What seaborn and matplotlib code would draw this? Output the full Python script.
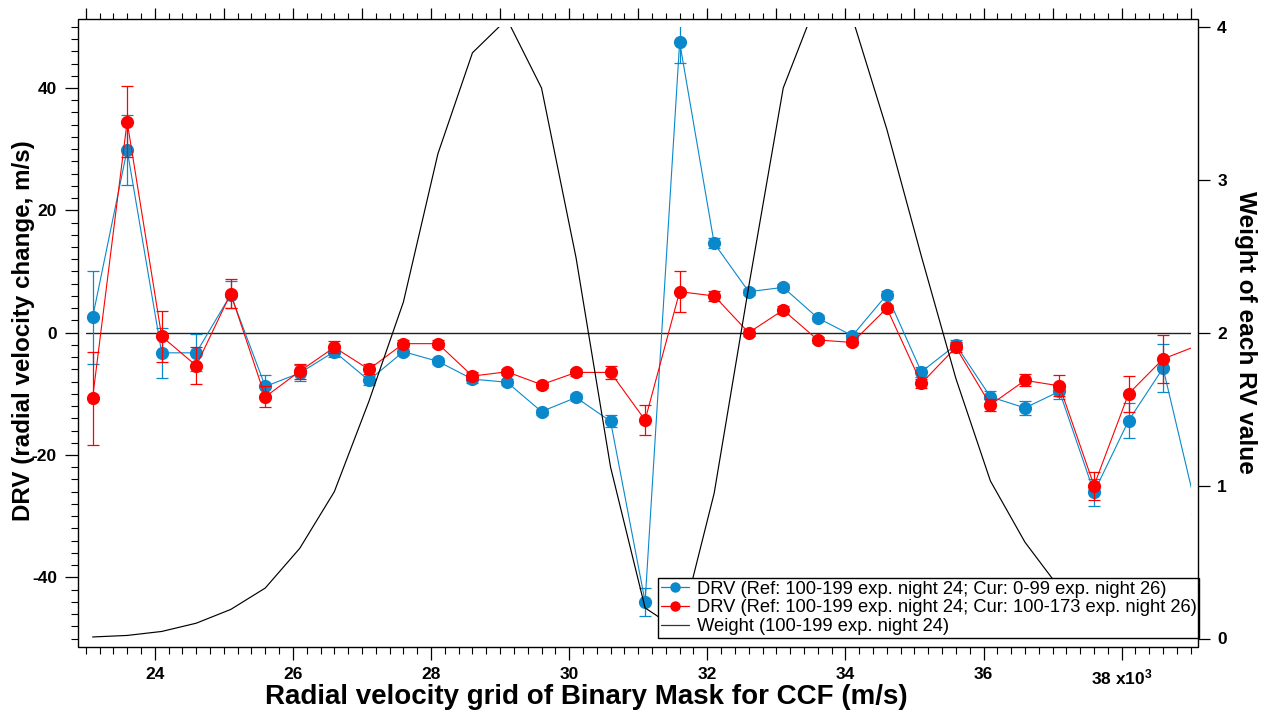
import matplotlib
matplotlib.use("Agg")
import matplotlib.pyplot as plt
from matplotlib.patches import Rectangle
from matplotlib.lines import Line2D
from matplotlib.ticker import MultipleLocator
import pandas as pd
import seaborn as sns

# ---------------- data ----------------
rv_grid = [23100, 23600, 24100, 24600, 25100, 25600, 26100, 26600, 27100, 27600,
           28100, 28600, 29100, 29600, 30100, 30600, 31100, 31600, 32100, 32600,
           33100, 33600, 34100, 34600, 35100, 35600, 36100, 36600, 37100, 37600,
           38100, 38600, 39100]

drv_cur0_99 = [2.5, 29.9, -3.3, -3.3, 6.2, -8.8, -6.6, -3.1, -7.8, -3.1,
               -4.7, -7.6, -8.1, -12.9, -10.6, -14.5, -44.0, 47.5, 14.6, 6.7,
               7.4, 2.4, -0.5, 6.2, -6.4, -2.0, -10.5, -12.3, -9.6, -26.1,
               -14.4, -5.8, -29.7]
err_cur0_99 = [7.6, 5.7, 4.1, 3.0, 2.2, 1.9, 1.3, 0.8, 0.7, 0.5,
               0.5, 0.6, 0.5, 0.5, 0.6, 1.0, 2.3, 3.4, 0.8, 0.5,
               0.5, 0.5, 0.5, 0.6, 0.8, 0.8, 1.0, 1.1, 1.2, 2.2,
               2.9, 3.9, 5.1]

drv_cur100_173 = [-10.7, 34.5, -0.6, -5.4, 6.4, -10.5, -6.3, -2.4, -6.0, -1.8,
                  -1.8, -7.1, -6.4, -8.5, -6.5, -6.5, -14.3, 6.7, 6.0, 0.0,
                  3.7, -1.2, -1.6, 4.0, -8.3, -2.4, -11.8, -7.8, -8.7, -25.0,
                  -10.0, -4.3, -2.1]
err_cur100_173 = [7.6, 5.8, 4.2, 3.0, 2.3, 1.7, 1.2, 1.0, 0.8, 0.6,
                  0.6, 0.6, 0.5, 0.5, 0.6, 1.0, 2.4, 3.3, 0.8, 0.6,
                  0.6, 0.5, 0.5, 0.6, 0.7, 0.8, 1.0, 1.0, 1.7, 2.3,
                  2.9, 3.9, 5.0]

weight = [0.01, 0.02, 0.046, 0.10, 0.19, 0.33, 0.59, 0.96, 1.55, 2.2,
          3.17, 3.83, 4.05, 3.60, 2.49, 1.12, 0.20, 0.05, 0.95, 2.3,
          3.6, 4.18, 4.06, 3.33, 2.5, 1.7, 1.03, 0.63, 0.33, 0.15,
          0.06, 0.02, 0.01]

x_tick_values = [24000, 26000, 28000, 30000, 32000, 34000, 36000, 38000]
x_tick_labels = ["24", "26", "28", "30", "32", "34", "36", "38 x10$^{3}$"]
y_tick_values = [-40, -20, 0, 20, 40]
y_tick_labels = ["-40", "-20", "0", "20", "40"]
w_tick_values = [0, 1, 2, 3, 4]
w_tick_labels = ["0", "1", "2", "3", "4"]

label_blue = "DRV (Ref: 100-199 exp. night 24; Cur: 0-99 exp. night 26)"
label_red = "DRV (Ref: 100-199 exp. night 24; Cur: 100-173 exp. night 26)"
label_weight = "Weight (100-199 exp. night 24)"

df = pd.DataFrame({"rv": rv_grid, "blue": drv_cur0_99, "eblue": err_cur0_99,
                   "red": drv_cur100_173, "ered": err_cur100_173, "w": weight})

# ---------------- style ----------------
sns.set_style("white")
plt.rcParams["font.family"] = ["Liberation Sans", "DejaVu Sans"]
plt.rcParams["axes.unicode_minus"] = False
plt.rcParams["text.color"] = "black"
plt.rcParams["axes.labelcolor"] = "black"
plt.rcParams["xtick.color"] = "black"
plt.rcParams["ytick.color"] = "black"
plt.rcParams["mathtext.fontset"] = "custom"
plt.rcParams["mathtext.rm"] = "Liberation Sans:bold"
plt.rcParams["mathtext.bf"] = "Liberation Sans:bold"
plt.rcParams["mathtext.default"] = "rm"

BLUE = "#0a88cc"
RED = "#ff0000"

W, H = 1266, 711
fig = plt.figure(figsize=(W / 100, H / 100), dpi=100)
L, R, T, B = 85.7, 1190.7, 26.8, 638.5
ax = fig.add_axes([L / W, (H - B) / H, (R - L) / W, (B - T) / H])
ax2 = ax.twinx()

# error bars + series
ax.errorbar(df["rv"], df["blue"], yerr=df["eblue"], fmt="none", ecolor=BLUE,
            elinewidth=0.9, capsize=4.2, capthick=0.9, zorder=2)
sns.lineplot(data=df, x="rv", y="blue", ax=ax, color=BLUE, marker="o",
             markersize=9.5, markeredgewidth=0, linewidth=0.8, zorder=3)
ax.errorbar(df["rv"], df["red"], yerr=df["ered"], fmt="none", ecolor=RED,
            elinewidth=0.9, capsize=4.2, capthick=0.9, zorder=4)
sns.lineplot(data=df, x="rv", y="red", ax=ax, color=RED, marker="o",
             markersize=9.5, markeredgewidth=0, linewidth=0.8, zorder=5)
ax.axhline(0, color="#222222", linewidth=1.0, zorder=1)

sns.lineplot(data=df, x="rv", y="w", ax=ax2, color="black", linewidth=0.85)

# limits
ax.set_xlim(23000, 39000)
ax.set_ylim(-50, 50)
ax2.set_ylim(0, 4)

# spines: offset outward, hidden (frame drawn separately)
px2pt = 72 / 100
ax.spines["left"].set_position(("outward", 7.7 * px2pt))
ax.spines["bottom"].set_position(("outward", 8.5 * px2pt))
ax2.spines["right"].set_position(("outward", 7.6 * px2pt))
for a in (ax, ax2):
    for s in a.spines.values():
        s.set_color("none")

# ticks
ax.set_xticks(x_tick_values, x_tick_labels, fontsize=12.5, fontweight="bold")
ax.xaxis.set_minor_locator(MultipleLocator(200))
ax.set_yticks(y_tick_values, y_tick_labels, fontsize=12.5, fontweight="bold")
ax.yaxis.set_minor_locator(MultipleLocator(2))
ax.tick_params(axis="x", which="major", direction="out", length=9.1, width=0.9,
               pad=5.5, colors="black", bottom=True, top=False)
ax.tick_params(axis="x", which="minor", direction="out", length=5.0, width=0.8,
               bottom=True, top=False)
ax.tick_params(axis="y", which="major", direction="out", length=9.4, width=0.9,
               pad=5.8, colors="black", left=True, right=False)
ax.tick_params(axis="y", which="minor", direction="out", length=5.0, width=0.8,
               left=True, right=False)

ax2.set_yticks(w_tick_values, w_tick_labels, fontsize=12.5, fontweight="bold")
ax2.tick_params(axis="y", which="major", direction="out", length=8.3, width=0.9,
                pad=5.3, colors="black")

secax = ax.secondary_xaxis(1 + 7.8 / (B - T))
secax.xaxis.set_major_locator(MultipleLocator(1000))
secax.xaxis.set_minor_locator(MultipleLocator(200))
secax.tick_params(which="major", direction="out", length=7.9, width=0.9,
                  labeltop=False, labelbottom=False)
secax.tick_params(which="minor", direction="out", length=4.3, width=0.8)
for s in secax.spines.values():
    s.set_color("none")

# labels
ax.set_xlabel("Radial velocity grid of Binary Mask for CCF (m/s)",
              fontsize=20, fontweight="bold")
ax.xaxis.set_label_coords(0.4528, -0.0955)
ax.xaxis.label.set_va("center")
ax.set_ylabel("DRV (radial velocity change, m/s)", fontsize=17.4, fontweight="bold")
ax.yaxis.set_label_coords(-0.0566, 0.5027)
ax.yaxis.label.set_va("center")
ax2.set_ylabel("Weight of each RV value", fontsize=17.6, fontweight="bold",
               rotation=-90)
ax2.yaxis.set_label_coords(1.050, 0.5)
ax2.yaxis.label.set_va("center")
ax2.yaxis.label.set_ha("center")

# frame
frame = Rectangle((78 / W, (H - 647) / H), 1120.3 / W, 628 / H,
                  transform=fig.transFigure, fill=False, edgecolor="black",
                  linewidth=1.0, zorder=10)
fig.add_artist(frame)

# legend
handles = [
    Line2D([], [], color=BLUE, marker="o", markersize=7.5, markeredgewidth=0, linewidth=0.9),
    Line2D([], [], color=RED, marker="o", markersize=7.5, markeredgewidth=0, linewidth=0.9),
    Line2D([], [], color="#333333", linewidth=0.9),
]
leg = ax2.legend(handles, [label_blue, label_red, label_weight],
                 loc="lower right", bbox_to_anchor=(1199.3 / W, (H - 638) / H),
                 bbox_transform=fig.transFigure, borderaxespad=0,
                 prop={"family": "Liberation Sans", "size": 13.2},
                 frameon=True, fancybox=False, framealpha=1,
                 edgecolor="black", borderpad=0.15, labelspacing=0.1,
                 handlelength=1.55, handletextpad=0.4)
leg.get_frame().set_linewidth(1.0)

fig.savefig("out.png", dpi=100)
